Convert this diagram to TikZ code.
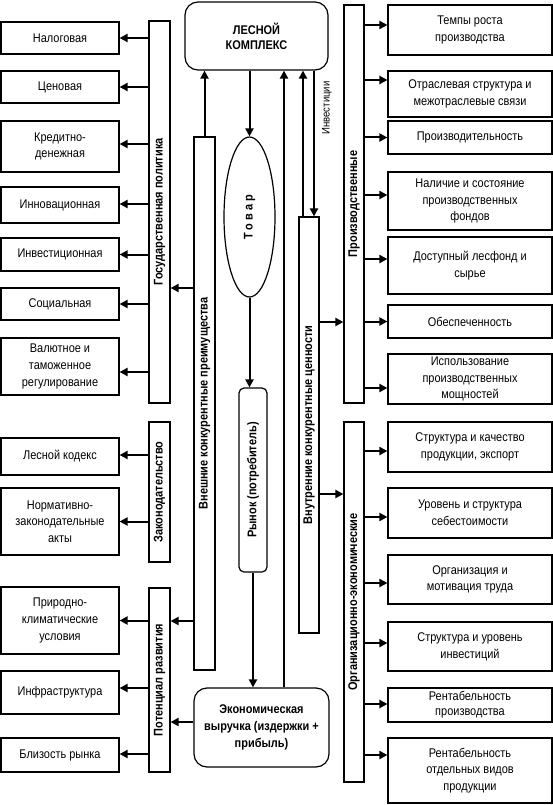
\documentclass[tikz,border=0pt]{standalone}
\usepackage{fontspec}
\setmainfont{Liberation Sans}[FakeStretch=0.87]
\usetikzlibrary{arrows.meta,shapes.geometric}

\begin{document}
\begin{tikzpicture}[x=1pt,y=-1pt]
\tikzset{
  boite/.style={draw, line width=1.2pt, inner sep=1pt, align=center, font=\fontsize{12.6}{16.7}\selectfont},
  barre/.style={draw, line width=1.2pt, inner sep=0pt, minimum width=21pt},
  barlab/.style={rotate=90, inner sep=0pt, font=\bfseries\fontsize{12.6}{15}\selectfont},
  gauche/.style={boite, minimum width=118pt},
  droite/.style={boite, minimum width=164pt},
  arr/.style={line width=2pt, -{Triangle[length=8pt,width=8pt]}}
}
\useasboundingbox (0,0) rectangle (553,805);

\node[gauche, minimum height=32pt] (nalog) at (60,38) {Налоговая};
\node[gauche, minimum height=32pt] (cenov) at (60,87) {Ценовая};
\node[gauche, minimum height=51pt] (kredit) at (60,146.5) {Кредитно-\\денежная};
\node[gauche, minimum height=36pt] (innov) at (60,205) {Инновационная};
\node[gauche, minimum height=33pt] (invest) at (60,254.5) {Инвестиционная};
\node[gauche, minimum height=32pt] (social) at (60,304) {Социальная};
\node[gauche, minimum height=57pt] (valut) at (60,366.5) {Валютное и\\таможенное\\регулирование};
\node[gauche, minimum height=37pt] (leskod) at (60,456.5) {Лесной кодекс};
\node[gauche, minimum height=67pt] (normakt) at (60,521.5) {Нормативно-\\законодательные\\акты};
\node[gauche, minimum height=67pt] (prirod) at (60,620.5) {Природно-\\климатические\\условия};
\node[gauche, minimum height=43pt] (infra) at (60,692.5) {Инфраструктура};
\node[gauche, minimum height=34pt] (blizost) at (60,755) {Близость рынка};

\node[barre, minimum height=382pt] (gospol) at (159.5,212) {};
\node[barlab] (gospolt) at (gospol) {Государственная политика};
\node[barre, minimum height=140pt] (zakon) at (159.5,492) {};
\node[barlab] (zakont) at (zakon) {Законодательство};
\node[barre, minimum height=184pt] (potenc) at (159.5,680) {};
\node[barlab] (potenct) at (potenc) {Потенциал развития};
\node[barre, minimum height=533pt] (vnesh) at (204.5,403.5) {};
\node[barlab] (vnesht) at (vnesh) {Внешние конкурентные преимущества};

\node[draw, rounded corners=13pt, line width=1.2pt, minimum width=143pt, minimum height=68pt, align=center, font=\bfseries\fontsize{12.6}{15}\selectfont] (kompl) at (256.5,36) {ЛЕСНОЙ\\КОМПЛЕКС};
\node[draw, ellipse, line width=1.2pt, inner sep=0pt, minimum width=51pt, minimum height=160pt] (tovar) at (249.5,217) {};
\node[barlab] (tovart) at (tovar) {\addfontfeature{LetterSpace=25}Товар};
\node[draw, rounded corners=5pt, line width=1.2pt, inner sep=0pt, minimum width=28pt, minimum height=184pt] (rynok) at (253,480) {};
\node[barlab] (rynokt) at (rynok) {Рынок (потребитель)};
\node[draw, rounded corners=13pt, line width=1.2pt, minimum width=135pt, minimum height=79pt, align=center, font=\bfseries\fontsize{12.6}{16.7}\selectfont] (vyruch) at (261.5,727.5) {Экономическая\\выручка (издержки +\\прибыль)};

\node[barre, minimum width=20pt, minimum height=416pt] (vnutr) at (309,425) {};
\node[barlab] (vnutrt) at (vnutr) {Внутренние конкурентные ценности};
\node[rotate=90, inner sep=0pt, font=\fontsize{11}{13}\selectfont] (invlab) at (327,108) {Инвестиции};

\node[barre, minimum width=20pt, minimum height=398pt] (proizv) at (354,204) {};
\node[barlab] (proizvt) at (proizv) {Производственные};
\node[barre, minimum width=20pt, minimum height=360pt] (orgek) at (354,602) {};
\node[barlab] (orgekt) at (orgek) {Организационно-экономические};

\node[droite, minimum height=50pt] (tempy) at (470,30) {Темпы роста\\производства};
\node[droite, minimum height=46pt] (otrasl) at (470,94) {Отраслевая структура и\\межотраслевые связи};
\node[droite, minimum height=33pt] (proizvod) at (470,137.5) {Производительность};
\node[droite, minimum height=58pt] (nalich) at (470,201) {Наличие и состояние\\производственных\\фондов};
\node[droite, minimum height=57pt] (dostup) at (470,265.5) {Доступный лесфонд и\\сырье};
\node[droite, minimum height=33pt] (obesp) at (470,321.5) {Обеспеченность};
\node[droite, minimum height=50pt] (ispolz) at (470,379) {Использование\\производственных\\мощностей};
\node[droite, minimum height=50pt] (strkach) at (470,447) {Структура и качество\\продукции, экспорт};
\node[droite, minimum height=50pt] (urov) at (470,513) {Уровень и структура\\себестоимости};
\node[droite, minimum height=49pt] (organiz) at (470,579.5) {Организация и\\мотивация труда};
\node[droite, minimum height=49pt] (strinv) at (470,646.5) {Структура и уровень\\инвестиций};
\node[droite, minimum height=34pt, font=\fontsize{12.6}{15}\selectfont] (rentpr) at (470,705) {Рентабельность\\производства};
\node[droite, minimum height=65pt] (rentvid) at (470,770.5) {Рентабельность\\отдельных видов\\продукции};

\foreach \b/\s in {nalog/0, cenov/0, kredit/2.5, innov/1, invest/0, social/0, valut/-5.5}
  {\coordinate (t) at ([yshift=\s pt]\b.east); \draw[arr] (t -| gospol.west) -- (t);}
\foreach \b/\s in {leskod/1.5, normakt/0}
  {\coordinate (t) at ([yshift=\s pt]\b.east); \draw[arr] (t -| zakon.west) -- (t);}
\foreach \b/\s in {prirod/0, infra/4.5, blizost/1}
  {\coordinate (t) at ([yshift=\s pt]\b.east); \draw[arr] (t -| potenc.west) -- (t);}
\foreach \b/\s in {tempy/5, otrasl/14, proizvod/0, nalich/6, dostup/6.5, obesp/0, ispolz/-9}
  {\coordinate (t) at ([yshift=\s pt]\b.west); \draw[arr] (t -| proizv.east) -- (t);}
\foreach \b/\s in {strkach/-4, urov/-4, organiz/-3.5, strinv/3.5, rentpr/1, rentvid/15.5}
  {\coordinate (t) at ([yshift=\s pt]\b.west); \draw[arr] (t -| orgek.east) -- (t);}

\draw[arr] (vnesh.north) -- (vnesh.north |- kompl.south);
\draw[arr] (tovar.north |- kompl.south) -- (tovar.north);
\coordinate (e1) at ([xshift=22.5pt]vyruch.north);
\draw[arr] (e1) -- (e1 |- kompl.south);
\coordinate (v1) at ([xshift=-6pt]vnutr.north);
\draw[arr] (v1) -- (v1 |- kompl.south);
\coordinate (v2) at ([xshift=5pt]vnutr.north);
\draw[arr] (v2 |- kompl.south) -- (v2);
\draw[arr] (tovar.south) -- (tovar.south |- rynok.north);
\draw[arr] (rynok.south) -- (rynok.south |- vyruch.north);
\coordinate (v3) at ([yshift=103pt]vnutr.east);
\draw[arr] (v3) -- (v3 -| proizv.west);
\coordinate (v4) at ([yshift=-69pt]vnutr.east);
\draw[arr] (v4) -- (v4 -| orgek.west);
\coordinate (w1) at ([yshift=115.5pt]vnesh.west);
\draw[arr] (w1) -- (w1 -| gospol.east);
\coordinate (w2) at ([yshift=59pt]potenc.east);
\draw[arr] (w2 -| vnesh.west) -- (w2);
\coordinate (w3) at ([yshift=5.5pt]vyruch.west);
\draw[arr] (w3) -- (w3 -| potenc.east);
\end{tikzpicture}
\end{document}
